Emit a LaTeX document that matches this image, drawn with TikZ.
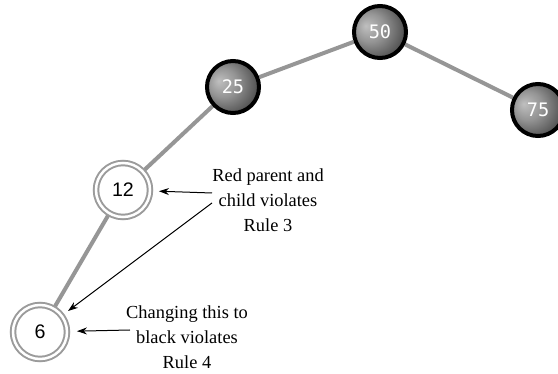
\documentclass[tikz,border=0pt]{standalone}
\usepackage{fontspec}
\setmainfont{Liberation Serif}
\newfontfamily\keysans{Liberation Sans}
\newfontfamily\keymono{DejaVu Sans Mono}
\usetikzlibrary{arrows.meta,backgrounds}
\definecolor{edgegray}{RGB}{150,150,150}
\definecolor{ringgray}{RGB}{155,155,155}
\pgfdeclareradialshading{blackshade}{\pgfpoint{-14bp}{6bp}}{color(0bp)=(black!25); color(14bp)=(black!42); color(32bp)=(black!72); color(50bp)=(black!82)}

\begin{document}
\begin{tikzpicture}[x=0.5pt,y=-0.5pt,
    blackkey/.style={circle,minimum size=26pt,inner sep=0pt,draw=black,line width=2pt,
      shading=blackshade,text=white,font=\keymono\fontsize{9.3}{11}\selectfont},
    redkey/.style={circle,minimum size=27pt,inner sep=0pt,draw=ringgray,line width=1pt,
      double=white,double distance=1.25pt,fill=white,font=\keysans\fontsize{9.8}{11}\selectfont},
    link/.style={draw=edgegray,line width=2pt},
    note/.style={align=center,inner sep=0pt,font=\fontsize{9.2}{12.6}\selectfont},
    pointer/.style={-{Stealth[length=5pt,width=3.5pt]},line width=0.5pt}]
  \useasboundingbox (0,0) rectangle (558,374);
  % tree
  \node[blackkey] (n50) at (380,32) {50};
  \node[blackkey] (n25) at (233,87) {25};
  \node[blackkey] (n75) at (538,110) {75};
  \node[redkey] (n12) at (123,190) {12};
  \node[redkey] (n6) at (40,332) {6};
  \begin{scope}[on background layer]
    \draw[link] (n50) -- (n25);
    \draw[link] (n50) -- (n75);
    \draw[link] (n25) -- (n12);
    \draw[link] (n12) -- (n6);
  \end{scope}
  % notes
  \node[note] (rule3) at (268,200) {Red parent and\\child violates\\Rule 3};
  \node[note] (rule4) at (187,337) {Changing this to\\black violates\\Rule 4};
  \coordinate (from3a) at (212,193);
  \coordinate (from3b) at (212,203);
  \coordinate (from4) at (130,330);
  \draw[pointer,shorten >=4pt] (from3a) -- (n12);
  \draw[pointer,shorten >=3.5pt] (from3b) -- (n6);
  \draw[pointer,shorten >=4.5pt] (from4) -- (n6);
\end{tikzpicture}
\end{document}
